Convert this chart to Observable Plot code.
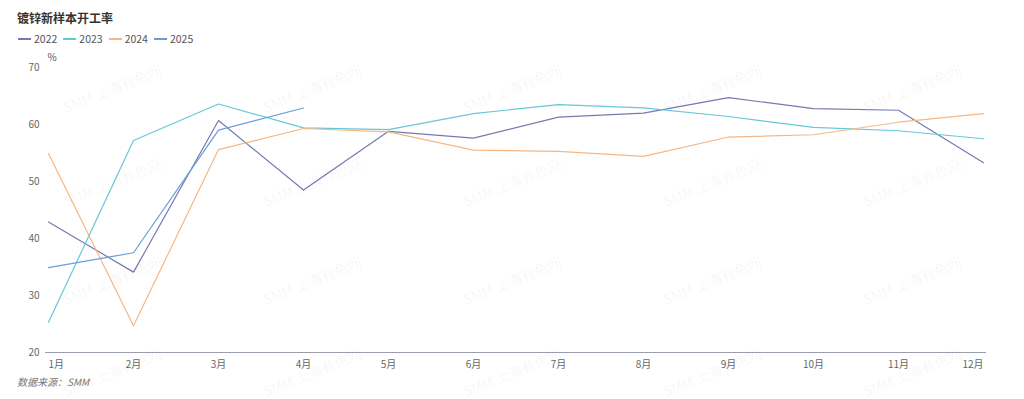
<!DOCTYPE html>
<html>
<head>
<meta charset="utf-8">
<script src="https://cdn.jsdelivr.net/npm/d3@7"></script>
<script src="https://cdn.jsdelivr.net/npm/@observablehq/plot@0.6"></script>
<style>
  html, body { margin: 0; padding: 0; background: #fff; }
  body { width: 1024px; height: 399px; position: relative; overflow: hidden;
         font-family: "Noto Sans CJK SC", "Noto Sans", sans-serif; }
  #title { position: absolute; left: 17px; top: 9px; font-size: 12px; font-weight: bold; color: #333; }
  #legend { position: absolute; left: 18px; top: 31px; display: flex; font-size: 10.5px; color: #555; }
  .item { display: flex; align-items: center; margin-right: 6px; }
  .sw { width: 13px; height: 2px; margin-right: 3px; }
  #chart { position: absolute; left: 0; top: 46px; }
  #caption { position: absolute; left: 17px; top: 374px; font-size: 10px; font-style: italic; color: #777; }
  .wm { position: absolute; font-size: 14px; color: rgba(0,0,0,0.05); transform: rotate(-22deg); white-space: nowrap; pointer-events: none; }
</style>
</head>
<body>
<div id="title">镀锌新样本开工率</div>
<div id="legend"></div>
<div id="chart"></div>
<div id="caption">数据来源：SMM</div>
<script>
const months = ["1月","2月","3月","4月","5月","6月","7月","8月","9月","10月","11月","12月"];
const seriesNames = ["2022","2023","2024","2025"];
const colors = ["#7479b3","#67c7d9","#f6b786","#6b9cda"];
const v2022 = [42.9, 34.1, 60.7, 48.5, 58.8, 57.6, 61.3, 62.0, 64.7, 62.8, 62.5, 53.3];
const v2023 = [25.3, 57.2, 63.6, 59.4, 59.1, 61.9, 63.5, 62.9, 61.4, 59.5, 58.9, 57.5];
const v2024 = [54.9, 24.7, 55.6, 59.3, 58.7, 55.5, 55.3, 54.4, 57.8, 58.2, 60.4, 61.9];
const v2025 = [34.9, 37.5, 59.0, 62.9];
const yTicks = [20, 30, 40, 50, 60, 70];

const allValues = [v2022, v2023, v2024, v2025];
const data = [];
allValues.forEach((vals, i) => vals.forEach((v, j) => data.push({series: seriesNames[i], month: months[j], value: v})));

// legend
const legend = document.getElementById("legend");
seriesNames.forEach((s, i) => {
  const it = document.createElement("div"); it.className = "item";
  const sw = document.createElement("div"); sw.className = "sw"; sw.style.background = colors[i];
  const tx = document.createElement("span"); tx.textContent = s;
  it.appendChild(sw); it.appendChild(tx); legend.appendChild(it);
});

// watermarks
const wmX = [60, 260, 460, 660, 860];
const wmY = [78, 172, 270, 362];
wmY.forEach(y => wmX.forEach(x => {
  const d = document.createElement("div"); d.className = "wm"; d.textContent = "SMM 上海有色网";
  d.style.left = x + "px"; d.style.top = y + "px"; document.body.appendChild(d);
}));

const mid = months.slice(1, -1);
const plot = Plot.plot({
  width: 1024,
  height: 330,
  marginLeft: 45,
  marginRight: 38,
  marginTop: 21,
  marginBottom: 24,
  style: {fontFamily: '"Noto Sans CJK SC", "Noto Sans", sans-serif', fontSize: "10px", color: "#666", background: "transparent"},
  x: {type: "point", domain: months, padding: 0},
  y: {domain: [20, 70]},
  color: {domain: seriesNames, range: colors},
  marks: [
    Plot.axisY({ticks: yTicks, tickSize: 0, tickPadding: 6, label: null, fill: "#666"}),
    Plot.text(["%"], {frameAnchor: "top-left", dx: 2, dy: -14, fill: "#555", fontSize: 10}),
    Plot.axisX({ticks: mid, tickSize: 0, tickPadding: 8, label: null, fill: "#666"}),
    Plot.axisX({ticks: [months[0]], tickSize: 0, tickPadding: 8, label: null, textAnchor: "start", fill: "#666"}),
    Plot.axisX({ticks: [months[11]], tickSize: 0, tickPadding: 8, label: null, textAnchor: "end", fill: "#666"}),
    Plot.ruleY([20], {stroke: "#9a9eae", strokeWidth: 1}),
    Plot.line(data, {x: "month", y: "value", z: "series", stroke: "series", strokeWidth: 1.2})
  ]
});
document.getElementById("chart").appendChild(plot);
</script>
</body>
</html>
